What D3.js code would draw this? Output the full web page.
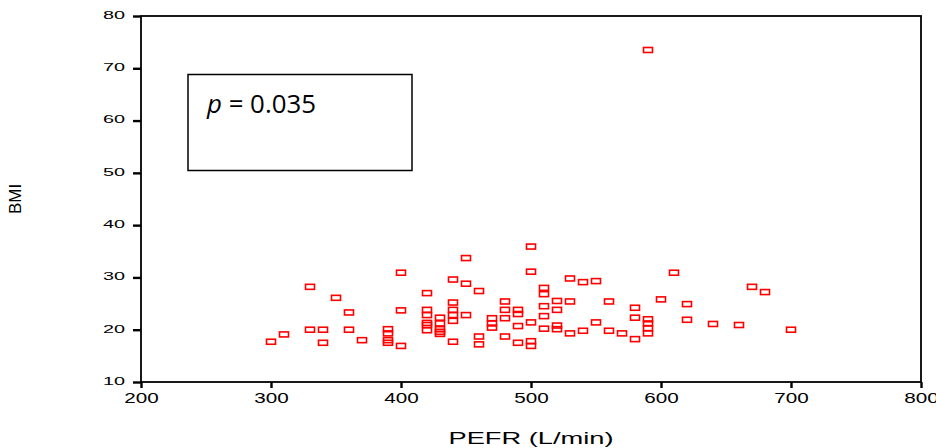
<!DOCTYPE html>
<html lang="en">
<head>
    <meta charset="UTF-8">
    <title>BMI vs PEFR</title>
    <script src="https://cdn.jsdelivr.net/npm/d3@7"></script>
    <style>
        body { margin: 0; background: #fff; }
        svg { display: block; }
        text { font-family: "Liberation Sans", Arial, sans-serif; fill: #000; }
    </style>
</head>
<body>
    <div id="chart"></div>
    <script>
        // values (PEFR in L/min, BMI)
        const pefr = [
            300, 310, 330, 330, 340, 340, 350, 360, 360, 370,
            390, 390, 390, 390, 400, 400, 400,
            420, 420, 420, 420, 420, 420,
            430, 430, 430, 430, 430,
            440, 440, 440, 440, 440, 440,
            450, 450, 450, 460, 460, 460, 470, 470, 470,
            480, 480, 480, 480, 490, 490, 490, 490,
            500, 500, 500, 500, 500,
            510, 510, 510, 510, 510, 520, 520, 520, 520,
            530, 530, 530, 540, 540, 550, 550, 560, 560, 570,
            580, 580, 580, 590, 590, 590, 590, 590,
            600, 610, 620, 620, 640, 660, 670, 680, 700
        ]
        const bmi = [
            17.7, 19.1, 28.2, 20.0, 20.0, 17.5, 26.1, 23.3, 20.0, 18.0,
            20.1, 19.3, 18.0, 17.5, 30.9, 23.7, 16.9,
            27.0, 23.8, 22.8, 21.3, 20.9, 19.9,
            22.3, 21.2, 20.1, 19.6, 19.2,
            29.6, 25.2, 23.8, 22.8, 21.7, 17.7,
            33.7, 28.8, 22.8, 27.4, 18.7, 17.2, 22.2, 21.2, 20.4,
            25.4, 23.8, 22.2, 18.7, 23.8, 23.0, 20.7, 17.5,
            35.9, 31.1, 21.4, 17.8, 16.9,
            28.0, 26.8, 24.5, 22.6, 20.2, 25.5, 23.8, 20.8, 20.1,
            29.8, 25.4, 19.3, 29.1, 19.8, 29.3, 21.4, 25.4, 19.8, 19.3,
            24.2, 22.3, 18.2, 73.5, 22.0, 21.2, 20.3, 19.3,
            25.8, 30.9, 24.9, 21.9, 21.1, 20.9, 28.2, 27.2, 20.0
        ]
        const xTicks = [200, 300, 400, 500, 600, 700, 800]
        const yTicks = [10, 20, 30, 40, 50, 60, 70, 80]
        const pValue = '0.035'

        const data = pefr.map((d, i) => ({ x: d, y: bmi[i] }))

        let w = 936
        let h = 448
        let margin = { left: 141, right: 15, top: 16, bottom: 66 }

        let svg = d3.select('#chart').append('svg')
            .attr('width', w)
            .attr('height', h)

        let xScale = d3.scaleLinear()
            .domain([200, 800])
            .range([margin.left, w - margin.right])
        let yScale = d3.scaleLinear()
            .domain([10, 80])
            .range([h - margin.bottom, margin.top])

        // frame round the plot
        svg.append('rect')
            .attr('x', xScale(200))
            .attr('y', yScale(80))
            .attr('width', xScale(800) - xScale(200))
            .attr('height', yScale(10) - yScale(80))
            .attr('fill', 'none')
            .attr('stroke', '#000')
            .attr('stroke-width', 1.8)

        // y axis
        let yAxis = svg.append('g')
            .attr('transform', `translate(${margin.left},0)`)
            .call(d3.axisLeft(yScale).tickValues(yTicks).tickSize(8).tickSizeOuter(0).tickPadding(8))
        yAxis.select('.domain').remove()
        yAxis.selectAll('line').attr('stroke-width', 2.4)
        yAxis.selectAll('text')
            .attr('font-size', 11.5)
            .attr('dy', '0.2em')
            .attr('textLength', d => String(d).length * 11)
            .attr('lengthAdjust', 'spacingAndGlyphs')

        // x axis
        let xAxis = svg.append('g')
            .attr('transform', `translate(0,${h - margin.bottom})`)
            .call(d3.axisBottom(xScale).tickValues(xTicks).tickSize(6).tickSizeOuter(0).tickPadding(5))
        xAxis.select('.domain').remove()
        xAxis.selectAll('line').attr('stroke-width', 2.4)
        xAxis.selectAll('text')
            .attr('font-size', 14)
            .attr('textLength', d => String(d).length * 11.5)
            .attr('lengthAdjust', 'spacingAndGlyphs')

        // axis titles
        svg.append('text')
            .attr('x', (xScale(200) + xScale(800)) / 2)
            .attr('y', 444)
            .attr('text-anchor', 'middle')
            .attr('font-size', 16)
            .attr('textLength', 165)
            .attr('lengthAdjust', 'spacingAndGlyphs')
            .text('PEFR (L/min)')

        svg.append('text')
            .attr('x', 0)
            .attr('y', 0)
            .attr('transform', 'translate(21,199) rotate(-90)')
            .attr('text-anchor', 'middle')
            .style('font-size', '17px')
            .text('BMI')

        // p value box
        svg.append('rect')
            .attr('x', 188)
            .attr('y', 74.5)
            .attr('width', 224)
            .attr('height', 96)
            .attr('fill', '#fff')
            .attr('stroke', '#000')
            .attr('stroke-width', 1.5)

        let pText = svg.append('text')
            .attr('x', 207)
            .attr('y', 113)
            .attr('font-size', 26)
            .style('font-family', '"Open Sans", "Noto Sans", sans-serif')
            .attr('textLength', 109)
            .attr('lengthAdjust', 'spacingAndGlyphs')
        pText.append('tspan').attr('font-style', 'italic').text('p')
        pText.append('tspan').text(' = ' + pValue)

        // points
        svg.append('g')
            .selectAll('rect')
            .data(data)
            .enter()
            .append('rect')
            .attr('x', d => xScale(d.x) - 4.5)
            .attr('y', d => yScale(d.y) - 2.5)
            .attr('width', 9)
            .attr('height', 5)
            .attr('fill', 'none')
            .attr('stroke', '#ff0000')
            .attr('stroke-width', 1.6)
    </script>
</body>
</html>
